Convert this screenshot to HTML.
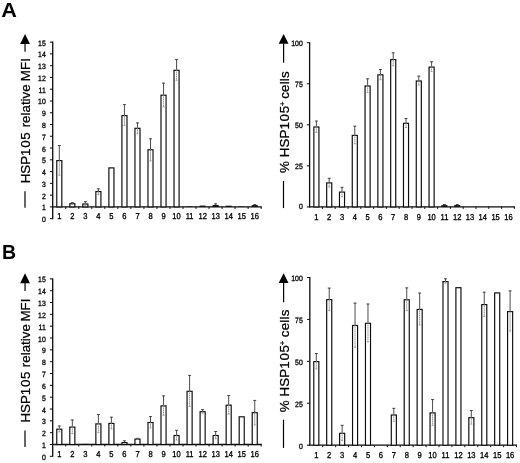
<!DOCTYPE html>
<html lang="en">
<head>
<meta charset="utf-8">
<title>HSP105 expression</title>
<style>
html,body{margin:0;padding:0;background:#fff;}
body{width:520px;height:463px;overflow:hidden;font-family:"Liberation Sans",Arial,sans-serif;}
svg{display:block;}
.t{font-family:"Liberation Sans",Arial,sans-serif;fill:#000;stroke:#000;stroke-width:0.32px;text-rendering:geometricPrecision;}
.ty{font-size:7.7px;}
.tx{font-size:8.6px;}
.l{font-family:"Liberation Sans",Arial,sans-serif;font-size:13.33px;fill:#000;stroke:#000;stroke-width:0.25px;}
.p{font-family:"Liberation Sans",Arial,sans-serif;font-size:19.7px;font-weight:bold;fill:#000;}
</style>
</head>
<body>
<svg width="520" height="463" viewBox="0 0 520 463">
<defs><filter id="soft" x="0" y="0" width="520" height="463" filterUnits="userSpaceOnUse"><feGaussianBlur stdDeviation="0.38"/></filter></defs>
<rect x="0" y="0" width="520" height="463" fill="#fff"/>
<g filter="url(#soft)">
<line x1="52.7" y1="41.62" x2="52.7" y2="219.17" stroke="#0a0a0a" stroke-width="1.3"/>
<line x1="49.9" y1="218.67" x2="52.7" y2="218.67" stroke="#0a0a0a" stroke-width="1"/>
<text transform="translate(45.8 222.17) scale(0.9 1)" text-anchor="end" class="t ty">0</text>
<line x1="49.9" y1="206.9" x2="52.7" y2="206.9" stroke="#0a0a0a" stroke-width="1"/>
<text transform="translate(45.8 210.4) scale(0.9 1)" text-anchor="end" class="t ty">1</text>
<line x1="49.9" y1="195.13" x2="52.7" y2="195.13" stroke="#0a0a0a" stroke-width="1"/>
<text transform="translate(45.8 198.63) scale(0.9 1)" text-anchor="end" class="t ty">2</text>
<line x1="49.9" y1="183.36" x2="52.7" y2="183.36" stroke="#0a0a0a" stroke-width="1"/>
<text transform="translate(45.8 186.86) scale(0.9 1)" text-anchor="end" class="t ty">3</text>
<line x1="49.9" y1="171.59" x2="52.7" y2="171.59" stroke="#0a0a0a" stroke-width="1"/>
<text transform="translate(45.8 175.09) scale(0.9 1)" text-anchor="end" class="t ty">4</text>
<line x1="49.9" y1="159.82" x2="52.7" y2="159.82" stroke="#0a0a0a" stroke-width="1"/>
<text transform="translate(45.8 163.32) scale(0.9 1)" text-anchor="end" class="t ty">5</text>
<line x1="49.9" y1="148.05" x2="52.7" y2="148.05" stroke="#0a0a0a" stroke-width="1"/>
<text transform="translate(45.8 151.55) scale(0.9 1)" text-anchor="end" class="t ty">6</text>
<line x1="49.9" y1="136.28" x2="52.7" y2="136.28" stroke="#0a0a0a" stroke-width="1"/>
<text transform="translate(45.8 139.78) scale(0.9 1)" text-anchor="end" class="t ty">7</text>
<line x1="49.9" y1="124.51" x2="52.7" y2="124.51" stroke="#0a0a0a" stroke-width="1"/>
<text transform="translate(45.8 128.01) scale(0.9 1)" text-anchor="end" class="t ty">8</text>
<line x1="49.9" y1="112.74" x2="52.7" y2="112.74" stroke="#0a0a0a" stroke-width="1"/>
<text transform="translate(45.8 116.24) scale(0.9 1)" text-anchor="end" class="t ty">9</text>
<line x1="49.9" y1="100.97" x2="52.7" y2="100.97" stroke="#0a0a0a" stroke-width="1"/>
<text transform="translate(45.8 104.47) scale(0.9 1)" text-anchor="end" class="t ty">10</text>
<line x1="49.9" y1="89.2" x2="52.7" y2="89.2" stroke="#0a0a0a" stroke-width="1"/>
<text transform="translate(45.8 92.7) scale(0.9 1)" text-anchor="end" class="t ty">11</text>
<line x1="49.9" y1="77.43" x2="52.7" y2="77.43" stroke="#0a0a0a" stroke-width="1"/>
<text transform="translate(45.8 80.93) scale(0.9 1)" text-anchor="end" class="t ty">12</text>
<line x1="49.9" y1="65.66" x2="52.7" y2="65.66" stroke="#0a0a0a" stroke-width="1"/>
<text transform="translate(45.8 69.16) scale(0.9 1)" text-anchor="end" class="t ty">13</text>
<line x1="49.9" y1="53.89" x2="52.7" y2="53.89" stroke="#0a0a0a" stroke-width="1"/>
<text transform="translate(45.8 57.39) scale(0.9 1)" text-anchor="end" class="t ty">14</text>
<line x1="49.9" y1="42.12" x2="52.7" y2="42.12" stroke="#0a0a0a" stroke-width="1"/>
<text transform="translate(45.8 45.62) scale(0.9 1)" text-anchor="end" class="t ty">15</text>
<line x1="52.1" y1="206.9" x2="261.68" y2="206.9" stroke="#0a0a0a" stroke-width="1.3"/>
<line x1="65.73" y1="206.9" x2="65.73" y2="208.9" stroke="#0a0a0a" stroke-width="1"/>
<line x1="78.76" y1="206.9" x2="78.76" y2="208.9" stroke="#0a0a0a" stroke-width="1"/>
<line x1="91.79" y1="206.9" x2="91.79" y2="208.9" stroke="#0a0a0a" stroke-width="1"/>
<line x1="104.82" y1="206.9" x2="104.82" y2="208.9" stroke="#0a0a0a" stroke-width="1"/>
<line x1="117.85" y1="206.9" x2="117.85" y2="208.9" stroke="#0a0a0a" stroke-width="1"/>
<line x1="130.88" y1="206.9" x2="130.88" y2="208.9" stroke="#0a0a0a" stroke-width="1"/>
<line x1="143.91" y1="206.9" x2="143.91" y2="208.9" stroke="#0a0a0a" stroke-width="1"/>
<line x1="156.94" y1="206.9" x2="156.94" y2="208.9" stroke="#0a0a0a" stroke-width="1"/>
<line x1="169.97" y1="206.9" x2="169.97" y2="208.9" stroke="#0a0a0a" stroke-width="1"/>
<line x1="183" y1="206.9" x2="183" y2="208.9" stroke="#0a0a0a" stroke-width="1"/>
<line x1="196.03" y1="206.9" x2="196.03" y2="208.9" stroke="#0a0a0a" stroke-width="1"/>
<line x1="209.06" y1="206.9" x2="209.06" y2="208.9" stroke="#0a0a0a" stroke-width="1"/>
<line x1="222.09" y1="206.9" x2="222.09" y2="208.9" stroke="#0a0a0a" stroke-width="1"/>
<line x1="235.12" y1="206.9" x2="235.12" y2="208.9" stroke="#0a0a0a" stroke-width="1"/>
<line x1="248.15" y1="206.9" x2="248.15" y2="208.9" stroke="#0a0a0a" stroke-width="1"/>
<line x1="261.18" y1="206.9" x2="261.18" y2="208.9" stroke="#0a0a0a" stroke-width="1"/>
<text transform="translate(59.3 219.1) scale(0.88 1)" text-anchor="middle" class="t tx">1</text>
<rect x="56.77" y="160.6" width="5.05" height="46.3" fill="#fff" stroke="#0a0a0a" stroke-width="1.15"/>
<line x1="59.3" y1="145.2" x2="59.3" y2="160.1" stroke="#383838" stroke-width="0.9"/>
<line x1="57.8" y1="145.5" x2="60.8" y2="145.5" stroke="#383838" stroke-width="0.9"/>
<line x1="59.3" y1="160.1" x2="59.3" y2="175.2" stroke="#858585" stroke-width="0.8" stroke-dasharray="1.6 0.4"/>
<line x1="58.3" y1="175.2" x2="60.3" y2="175.2" stroke="#888" stroke-width="0.8"/>
<text transform="translate(72.33 219.1) scale(0.88 1)" text-anchor="middle" class="t tx">2</text>
<rect x="69.8" y="203.7" width="5.05" height="3.2" fill="#fff" stroke="#0a0a0a" stroke-width="1.15"/>
<line x1="72.33" y1="202.3" x2="72.33" y2="203.2" stroke="#383838" stroke-width="0.9"/>
<line x1="70.83" y1="202.6" x2="73.83" y2="202.6" stroke="#383838" stroke-width="0.9"/>
<line x1="72.33" y1="203.2" x2="72.33" y2="204.2" stroke="#858585" stroke-width="0.8" stroke-dasharray="1.6 0.4"/>
<line x1="71.33" y1="204.2" x2="73.33" y2="204.2" stroke="#888" stroke-width="0.8"/>
<text transform="translate(85.36 219.1) scale(0.88 1)" text-anchor="middle" class="t tx">3</text>
<rect x="82.83" y="204" width="5.05" height="2.9" fill="#fff" stroke="#0a0a0a" stroke-width="1.15"/>
<line x1="85.36" y1="201.4" x2="85.36" y2="203.5" stroke="#383838" stroke-width="0.9"/>
<line x1="83.86" y1="201.7" x2="86.86" y2="201.7" stroke="#383838" stroke-width="0.9"/>
<line x1="85.36" y1="203.5" x2="85.36" y2="205.5" stroke="#858585" stroke-width="0.8" stroke-dasharray="1.6 0.4"/>
<line x1="84.36" y1="205.5" x2="86.36" y2="205.5" stroke="#888" stroke-width="0.8"/>
<text transform="translate(98.39 219.1) scale(0.88 1)" text-anchor="middle" class="t tx">4</text>
<rect x="95.86" y="191.6" width="5.05" height="15.3" fill="#fff" stroke="#0a0a0a" stroke-width="1.15"/>
<line x1="98.39" y1="188.5" x2="98.39" y2="191.1" stroke="#383838" stroke-width="0.9"/>
<line x1="96.89" y1="188.8" x2="99.89" y2="188.8" stroke="#383838" stroke-width="0.9"/>
<line x1="98.39" y1="191.1" x2="98.39" y2="194.7" stroke="#858585" stroke-width="0.8" stroke-dasharray="1.6 0.4"/>
<line x1="97.39" y1="194.7" x2="99.39" y2="194.7" stroke="#888" stroke-width="0.8"/>
<text transform="translate(111.42 219.1) scale(0.88 1)" text-anchor="middle" class="t tx">5</text>
<rect x="108.89" y="167.9" width="5.05" height="39" fill="#fff" stroke="#0a0a0a" stroke-width="1.15"/>
<text transform="translate(124.45 219.1) scale(0.88 1)" text-anchor="middle" class="t tx">6</text>
<rect x="121.92" y="115.6" width="5.05" height="91.3" fill="#fff" stroke="#0a0a0a" stroke-width="1.15"/>
<line x1="124.45" y1="104.3" x2="124.45" y2="115.1" stroke="#383838" stroke-width="0.9"/>
<line x1="122.95" y1="104.6" x2="125.95" y2="104.6" stroke="#383838" stroke-width="0.9"/>
<line x1="124.45" y1="115.1" x2="124.45" y2="125.5" stroke="#858585" stroke-width="0.8" stroke-dasharray="1.6 0.4"/>
<line x1="123.45" y1="125.5" x2="125.45" y2="125.5" stroke="#888" stroke-width="0.8"/>
<text transform="translate(137.48 219.1) scale(0.88 1)" text-anchor="middle" class="t tx">7</text>
<rect x="134.95" y="128.3" width="5.05" height="78.6" fill="#fff" stroke="#0a0a0a" stroke-width="1.15"/>
<line x1="137.48" y1="122.6" x2="137.48" y2="127.8" stroke="#383838" stroke-width="0.9"/>
<line x1="135.98" y1="122.9" x2="138.98" y2="122.9" stroke="#383838" stroke-width="0.9"/>
<line x1="137.48" y1="127.8" x2="137.48" y2="133.7" stroke="#858585" stroke-width="0.8" stroke-dasharray="1.6 0.4"/>
<line x1="136.48" y1="133.7" x2="138.48" y2="133.7" stroke="#888" stroke-width="0.8"/>
<text transform="translate(150.51 219.1) scale(0.88 1)" text-anchor="middle" class="t tx">8</text>
<rect x="147.98" y="149.8" width="5.05" height="57.1" fill="#fff" stroke="#0a0a0a" stroke-width="1.15"/>
<line x1="150.51" y1="138.5" x2="150.51" y2="149.3" stroke="#383838" stroke-width="0.9"/>
<line x1="149.01" y1="138.8" x2="152.01" y2="138.8" stroke="#383838" stroke-width="0.9"/>
<line x1="150.51" y1="149.3" x2="150.51" y2="160.9" stroke="#858585" stroke-width="0.8" stroke-dasharray="1.6 0.4"/>
<line x1="149.51" y1="160.9" x2="151.51" y2="160.9" stroke="#888" stroke-width="0.8"/>
<text transform="translate(163.54 219.1) scale(0.88 1)" text-anchor="middle" class="t tx">9</text>
<rect x="161.01" y="95.2" width="5.05" height="111.7" fill="#fff" stroke="#0a0a0a" stroke-width="1.15"/>
<line x1="163.54" y1="82.8" x2="163.54" y2="94.7" stroke="#383838" stroke-width="0.9"/>
<line x1="162.04" y1="83.1" x2="165.04" y2="83.1" stroke="#383838" stroke-width="0.9"/>
<line x1="163.54" y1="94.7" x2="163.54" y2="106.9" stroke="#858585" stroke-width="0.8" stroke-dasharray="1.6 0.4"/>
<line x1="162.54" y1="106.9" x2="164.54" y2="106.9" stroke="#888" stroke-width="0.8"/>
<text transform="translate(176.57 219.1) scale(0.88 1)" text-anchor="middle" class="t tx">10</text>
<rect x="174.04" y="70.3" width="5.05" height="136.6" fill="#fff" stroke="#0a0a0a" stroke-width="1.15"/>
<line x1="176.57" y1="59.3" x2="176.57" y2="69.8" stroke="#383838" stroke-width="0.9"/>
<line x1="175.07" y1="59.6" x2="178.07" y2="59.6" stroke="#383838" stroke-width="0.9"/>
<line x1="176.57" y1="69.8" x2="176.57" y2="80.2" stroke="#858585" stroke-width="0.8" stroke-dasharray="1.6 0.4"/>
<line x1="175.57" y1="80.2" x2="177.57" y2="80.2" stroke="#888" stroke-width="0.8"/>
<text transform="translate(189.6 219.1) scale(0.88 1)" text-anchor="middle" class="t tx">11</text>
<rect x="186.57" y="206.4" width="6.05" height="0.5" fill="#0a0a0a"/>
<text transform="translate(202.63 219.1) scale(0.88 1)" text-anchor="middle" class="t tx">12</text>
<rect x="199.6" y="205.6" width="6.05" height="1.3" fill="#0a0a0a"/>
<text transform="translate(215.66 219.1) scale(0.88 1)" text-anchor="middle" class="t tx">13</text>
<rect x="212.63" y="205" width="6.05" height="1.9" fill="#0a0a0a"/>
<line x1="215.66" y1="203.5" x2="215.66" y2="205" stroke="#383838" stroke-width="0.9"/>
<line x1="214.16" y1="203.8" x2="217.16" y2="203.8" stroke="#383838" stroke-width="0.9"/>
<text transform="translate(228.69 219.1) scale(0.88 1)" text-anchor="middle" class="t tx">14</text>
<rect x="225.66" y="205.7" width="6.05" height="1.2" fill="#0a0a0a"/>
<text transform="translate(241.72 219.1) scale(0.88 1)" text-anchor="middle" class="t tx">15</text>
<rect x="238.69" y="206.6" width="6.05" height="0.3" fill="#0a0a0a"/>
<text transform="translate(254.75 219.1) scale(0.88 1)" text-anchor="middle" class="t tx">16</text>
<rect x="251.72" y="205.1" width="6.05" height="1.8" fill="#0a0a0a"/>
<line x1="254.75" y1="204.3" x2="254.75" y2="205.1" stroke="#383838" stroke-width="0.9"/>
<line x1="253.25" y1="204.6" x2="256.25" y2="204.6" stroke="#383838" stroke-width="0.9"/>
<line x1="309.6" y1="42.2" x2="309.6" y2="207.4" stroke="#0a0a0a" stroke-width="1.3"/>
<line x1="306.8" y1="206.9" x2="309.6" y2="206.9" stroke="#0a0a0a" stroke-width="1"/>
<text transform="translate(302.8 209.4) scale(0.9 1)" text-anchor="end" class="t ty">0</text>
<line x1="306.8" y1="165.85" x2="309.6" y2="165.85" stroke="#0a0a0a" stroke-width="1"/>
<text transform="translate(302.8 169.35) scale(0.9 1)" text-anchor="end" class="t ty">25</text>
<line x1="306.8" y1="124.8" x2="309.6" y2="124.8" stroke="#0a0a0a" stroke-width="1"/>
<text transform="translate(302.8 128.3) scale(0.9 1)" text-anchor="end" class="t ty">50</text>
<line x1="306.8" y1="83.75" x2="309.6" y2="83.75" stroke="#0a0a0a" stroke-width="1"/>
<text transform="translate(302.8 87.25) scale(0.9 1)" text-anchor="end" class="t ty">75</text>
<line x1="306.8" y1="42.7" x2="309.6" y2="42.7" stroke="#0a0a0a" stroke-width="1"/>
<text transform="translate(302.8 46.2) scale(0.9 1)" text-anchor="end" class="t ty">100</text>
<line x1="309" y1="206.9" x2="514.9" y2="206.9" stroke="#0a0a0a" stroke-width="1.3"/>
<line x1="322.4" y1="206.9" x2="322.4" y2="208.9" stroke="#0a0a0a" stroke-width="1"/>
<line x1="335.2" y1="206.9" x2="335.2" y2="208.9" stroke="#0a0a0a" stroke-width="1"/>
<line x1="348" y1="206.9" x2="348" y2="208.9" stroke="#0a0a0a" stroke-width="1"/>
<line x1="360.8" y1="206.9" x2="360.8" y2="208.9" stroke="#0a0a0a" stroke-width="1"/>
<line x1="373.6" y1="206.9" x2="373.6" y2="208.9" stroke="#0a0a0a" stroke-width="1"/>
<line x1="386.4" y1="206.9" x2="386.4" y2="208.9" stroke="#0a0a0a" stroke-width="1"/>
<line x1="399.2" y1="206.9" x2="399.2" y2="208.9" stroke="#0a0a0a" stroke-width="1"/>
<line x1="412" y1="206.9" x2="412" y2="208.9" stroke="#0a0a0a" stroke-width="1"/>
<line x1="424.8" y1="206.9" x2="424.8" y2="208.9" stroke="#0a0a0a" stroke-width="1"/>
<line x1="437.6" y1="206.9" x2="437.6" y2="208.9" stroke="#0a0a0a" stroke-width="1"/>
<line x1="450.4" y1="206.9" x2="450.4" y2="208.9" stroke="#0a0a0a" stroke-width="1"/>
<line x1="463.2" y1="206.9" x2="463.2" y2="208.9" stroke="#0a0a0a" stroke-width="1"/>
<line x1="476" y1="206.9" x2="476" y2="208.9" stroke="#0a0a0a" stroke-width="1"/>
<line x1="488.8" y1="206.9" x2="488.8" y2="208.9" stroke="#0a0a0a" stroke-width="1"/>
<line x1="501.6" y1="206.9" x2="501.6" y2="208.9" stroke="#0a0a0a" stroke-width="1"/>
<line x1="514.4" y1="206.9" x2="514.4" y2="208.9" stroke="#0a0a0a" stroke-width="1"/>
<text transform="translate(316.4 220) scale(0.88 1)" text-anchor="middle" class="t tx">1</text>
<rect x="313.88" y="127" width="5.05" height="79.9" fill="#fff" stroke="#0a0a0a" stroke-width="1.15"/>
<line x1="316.4" y1="120.8" x2="316.4" y2="126.5" stroke="#383838" stroke-width="0.9"/>
<line x1="314.9" y1="121.1" x2="317.9" y2="121.1" stroke="#383838" stroke-width="0.9"/>
<line x1="316.4" y1="126.5" x2="316.4" y2="132.4" stroke="#858585" stroke-width="0.8" stroke-dasharray="1.6 0.4"/>
<line x1="315.4" y1="132.4" x2="317.4" y2="132.4" stroke="#888" stroke-width="0.8"/>
<text transform="translate(329.2 220) scale(0.88 1)" text-anchor="middle" class="t tx">2</text>
<rect x="326.68" y="182.9" width="5.05" height="24" fill="#fff" stroke="#0a0a0a" stroke-width="1.15"/>
<line x1="329.2" y1="178" x2="329.2" y2="182.4" stroke="#383838" stroke-width="0.9"/>
<line x1="327.7" y1="178.3" x2="330.7" y2="178.3" stroke="#383838" stroke-width="0.9"/>
<line x1="329.2" y1="182.4" x2="329.2" y2="187" stroke="#858585" stroke-width="0.8" stroke-dasharray="1.6 0.4"/>
<line x1="328.2" y1="187" x2="330.2" y2="187" stroke="#888" stroke-width="0.8"/>
<text transform="translate(342 220) scale(0.88 1)" text-anchor="middle" class="t tx">3</text>
<rect x="339.48" y="192.1" width="5.05" height="14.8" fill="#fff" stroke="#0a0a0a" stroke-width="1.15"/>
<line x1="342" y1="187" x2="342" y2="191.6" stroke="#383838" stroke-width="0.9"/>
<line x1="340.5" y1="187.3" x2="343.5" y2="187.3" stroke="#383838" stroke-width="0.9"/>
<line x1="342" y1="191.6" x2="342" y2="196.7" stroke="#858585" stroke-width="0.8" stroke-dasharray="1.6 0.4"/>
<line x1="341" y1="196.7" x2="343" y2="196.7" stroke="#888" stroke-width="0.8"/>
<text transform="translate(354.8 220) scale(0.88 1)" text-anchor="middle" class="t tx">4</text>
<rect x="352.27" y="135.4" width="5.05" height="71.5" fill="#fff" stroke="#0a0a0a" stroke-width="1.15"/>
<line x1="354.8" y1="125.9" x2="354.8" y2="134.9" stroke="#383838" stroke-width="0.9"/>
<line x1="353.3" y1="126.2" x2="356.3" y2="126.2" stroke="#383838" stroke-width="0.9"/>
<line x1="354.8" y1="134.9" x2="354.8" y2="143.8" stroke="#858585" stroke-width="0.8" stroke-dasharray="1.6 0.4"/>
<line x1="353.8" y1="143.8" x2="355.8" y2="143.8" stroke="#888" stroke-width="0.8"/>
<text transform="translate(367.6 220) scale(0.88 1)" text-anchor="middle" class="t tx">5</text>
<rect x="365.07" y="86" width="5.05" height="120.9" fill="#fff" stroke="#0a0a0a" stroke-width="1.15"/>
<line x1="367.6" y1="78.5" x2="367.6" y2="85.5" stroke="#383838" stroke-width="0.9"/>
<line x1="366.1" y1="78.8" x2="369.1" y2="78.8" stroke="#383838" stroke-width="0.9"/>
<line x1="367.6" y1="85.5" x2="367.6" y2="92.5" stroke="#858585" stroke-width="0.8" stroke-dasharray="1.6 0.4"/>
<line x1="366.6" y1="92.5" x2="368.6" y2="92.5" stroke="#888" stroke-width="0.8"/>
<text transform="translate(380.4 220) scale(0.88 1)" text-anchor="middle" class="t tx">6</text>
<rect x="377.88" y="74.8" width="5.05" height="132.1" fill="#fff" stroke="#0a0a0a" stroke-width="1.15"/>
<line x1="380.4" y1="69.2" x2="380.4" y2="74.3" stroke="#383838" stroke-width="0.9"/>
<line x1="378.9" y1="69.5" x2="381.9" y2="69.5" stroke="#383838" stroke-width="0.9"/>
<line x1="380.4" y1="74.3" x2="380.4" y2="79.7" stroke="#858585" stroke-width="0.8" stroke-dasharray="1.6 0.4"/>
<line x1="379.4" y1="79.7" x2="381.4" y2="79.7" stroke="#888" stroke-width="0.8"/>
<text transform="translate(393.2 220) scale(0.88 1)" text-anchor="middle" class="t tx">7</text>
<rect x="390.68" y="59.6" width="5.05" height="147.3" fill="#fff" stroke="#0a0a0a" stroke-width="1.15"/>
<line x1="393.2" y1="52.5" x2="393.2" y2="59.1" stroke="#383838" stroke-width="0.9"/>
<line x1="391.7" y1="52.8" x2="394.7" y2="52.8" stroke="#383838" stroke-width="0.9"/>
<line x1="393.2" y1="59.1" x2="393.2" y2="65.7" stroke="#858585" stroke-width="0.8" stroke-dasharray="1.6 0.4"/>
<line x1="392.2" y1="65.7" x2="394.2" y2="65.7" stroke="#888" stroke-width="0.8"/>
<text transform="translate(406 220) scale(0.88 1)" text-anchor="middle" class="t tx">8</text>
<rect x="403.48" y="123.3" width="5.05" height="83.6" fill="#fff" stroke="#0a0a0a" stroke-width="1.15"/>
<line x1="406" y1="118.2" x2="406" y2="122.8" stroke="#383838" stroke-width="0.9"/>
<line x1="404.5" y1="118.5" x2="407.5" y2="118.5" stroke="#383838" stroke-width="0.9"/>
<line x1="406" y1="122.8" x2="406" y2="127.5" stroke="#858585" stroke-width="0.8" stroke-dasharray="1.6 0.4"/>
<line x1="405" y1="127.5" x2="407" y2="127.5" stroke="#888" stroke-width="0.8"/>
<text transform="translate(418.8 220) scale(0.88 1)" text-anchor="middle" class="t tx">9</text>
<rect x="416.27" y="81" width="5.05" height="125.9" fill="#fff" stroke="#0a0a0a" stroke-width="1.15"/>
<line x1="418.8" y1="75.8" x2="418.8" y2="80.5" stroke="#383838" stroke-width="0.9"/>
<line x1="417.3" y1="76.1" x2="420.3" y2="76.1" stroke="#383838" stroke-width="0.9"/>
<line x1="418.8" y1="80.5" x2="418.8" y2="85.1" stroke="#858585" stroke-width="0.8" stroke-dasharray="1.6 0.4"/>
<line x1="417.8" y1="85.1" x2="419.8" y2="85.1" stroke="#888" stroke-width="0.8"/>
<text transform="translate(431.6 220) scale(0.88 1)" text-anchor="middle" class="t tx">10</text>
<rect x="429.07" y="67.1" width="5.05" height="139.8" fill="#fff" stroke="#0a0a0a" stroke-width="1.15"/>
<line x1="431.6" y1="61.5" x2="431.6" y2="66.6" stroke="#383838" stroke-width="0.9"/>
<line x1="430.1" y1="61.8" x2="433.1" y2="61.8" stroke="#383838" stroke-width="0.9"/>
<line x1="431.6" y1="66.6" x2="431.6" y2="71.6" stroke="#858585" stroke-width="0.8" stroke-dasharray="1.6 0.4"/>
<line x1="430.6" y1="71.6" x2="432.6" y2="71.6" stroke="#888" stroke-width="0.8"/>
<text transform="translate(444.4 220) scale(0.88 1)" text-anchor="middle" class="t tx">11</text>
<rect x="441.38" y="205.1" width="6.05" height="1.8" fill="#0a0a0a"/>
<line x1="444.4" y1="204.2" x2="444.4" y2="205.1" stroke="#383838" stroke-width="0.9"/>
<line x1="442.9" y1="204.5" x2="445.9" y2="204.5" stroke="#383838" stroke-width="0.9"/>
<text transform="translate(457.2 220) scale(0.88 1)" text-anchor="middle" class="t tx">12</text>
<rect x="454.18" y="205.1" width="6.05" height="1.8" fill="#0a0a0a"/>
<line x1="457.2" y1="204.2" x2="457.2" y2="205.1" stroke="#383838" stroke-width="0.9"/>
<line x1="455.7" y1="204.5" x2="458.7" y2="204.5" stroke="#383838" stroke-width="0.9"/>
<text transform="translate(470 220) scale(0.88 1)" text-anchor="middle" class="t tx">13</text>
<text transform="translate(482.8 220) scale(0.88 1)" text-anchor="middle" class="t tx">14</text>
<text transform="translate(495.6 220) scale(0.88 1)" text-anchor="middle" class="t tx">15</text>
<text transform="translate(508.4 220) scale(0.88 1)" text-anchor="middle" class="t tx">16</text>
<line x1="52.7" y1="278.38" x2="52.7" y2="456.83" stroke="#0a0a0a" stroke-width="1.3"/>
<line x1="49.9" y1="456.33" x2="52.7" y2="456.33" stroke="#0a0a0a" stroke-width="1"/>
<text transform="translate(45.8 459.83) scale(0.9 1)" text-anchor="end" class="t ty">0</text>
<line x1="49.9" y1="444.5" x2="52.7" y2="444.5" stroke="#0a0a0a" stroke-width="1"/>
<text transform="translate(45.8 448) scale(0.9 1)" text-anchor="end" class="t ty">1</text>
<line x1="49.9" y1="432.67" x2="52.7" y2="432.67" stroke="#0a0a0a" stroke-width="1"/>
<text transform="translate(45.8 436.17) scale(0.9 1)" text-anchor="end" class="t ty">2</text>
<line x1="49.9" y1="420.84" x2="52.7" y2="420.84" stroke="#0a0a0a" stroke-width="1"/>
<text transform="translate(45.8 424.34) scale(0.9 1)" text-anchor="end" class="t ty">3</text>
<line x1="49.9" y1="409.01" x2="52.7" y2="409.01" stroke="#0a0a0a" stroke-width="1"/>
<text transform="translate(45.8 412.51) scale(0.9 1)" text-anchor="end" class="t ty">4</text>
<line x1="49.9" y1="397.18" x2="52.7" y2="397.18" stroke="#0a0a0a" stroke-width="1"/>
<text transform="translate(45.8 400.68) scale(0.9 1)" text-anchor="end" class="t ty">5</text>
<line x1="49.9" y1="385.35" x2="52.7" y2="385.35" stroke="#0a0a0a" stroke-width="1"/>
<text transform="translate(45.8 388.85) scale(0.9 1)" text-anchor="end" class="t ty">6</text>
<line x1="49.9" y1="373.52" x2="52.7" y2="373.52" stroke="#0a0a0a" stroke-width="1"/>
<text transform="translate(45.8 377.02) scale(0.9 1)" text-anchor="end" class="t ty">7</text>
<line x1="49.9" y1="361.69" x2="52.7" y2="361.69" stroke="#0a0a0a" stroke-width="1"/>
<text transform="translate(45.8 365.19) scale(0.9 1)" text-anchor="end" class="t ty">8</text>
<line x1="49.9" y1="349.86" x2="52.7" y2="349.86" stroke="#0a0a0a" stroke-width="1"/>
<text transform="translate(45.8 353.36) scale(0.9 1)" text-anchor="end" class="t ty">9</text>
<line x1="49.9" y1="338.03" x2="52.7" y2="338.03" stroke="#0a0a0a" stroke-width="1"/>
<text transform="translate(45.8 341.53) scale(0.9 1)" text-anchor="end" class="t ty">10</text>
<line x1="49.9" y1="326.2" x2="52.7" y2="326.2" stroke="#0a0a0a" stroke-width="1"/>
<text transform="translate(45.8 329.7) scale(0.9 1)" text-anchor="end" class="t ty">11</text>
<line x1="49.9" y1="314.37" x2="52.7" y2="314.37" stroke="#0a0a0a" stroke-width="1"/>
<text transform="translate(45.8 317.87) scale(0.9 1)" text-anchor="end" class="t ty">12</text>
<line x1="49.9" y1="302.54" x2="52.7" y2="302.54" stroke="#0a0a0a" stroke-width="1"/>
<text transform="translate(45.8 306.04) scale(0.9 1)" text-anchor="end" class="t ty">13</text>
<line x1="49.9" y1="290.71" x2="52.7" y2="290.71" stroke="#0a0a0a" stroke-width="1"/>
<text transform="translate(45.8 294.21) scale(0.9 1)" text-anchor="end" class="t ty">14</text>
<line x1="49.9" y1="278.88" x2="52.7" y2="278.88" stroke="#0a0a0a" stroke-width="1"/>
<text transform="translate(45.8 282.38) scale(0.9 1)" text-anchor="end" class="t ty">15</text>
<line x1="52.1" y1="444.5" x2="261.68" y2="444.5" stroke="#0a0a0a" stroke-width="1.3"/>
<line x1="65.73" y1="444.5" x2="65.73" y2="446.5" stroke="#0a0a0a" stroke-width="1"/>
<line x1="78.76" y1="444.5" x2="78.76" y2="446.5" stroke="#0a0a0a" stroke-width="1"/>
<line x1="91.79" y1="444.5" x2="91.79" y2="446.5" stroke="#0a0a0a" stroke-width="1"/>
<line x1="104.82" y1="444.5" x2="104.82" y2="446.5" stroke="#0a0a0a" stroke-width="1"/>
<line x1="117.85" y1="444.5" x2="117.85" y2="446.5" stroke="#0a0a0a" stroke-width="1"/>
<line x1="130.88" y1="444.5" x2="130.88" y2="446.5" stroke="#0a0a0a" stroke-width="1"/>
<line x1="143.91" y1="444.5" x2="143.91" y2="446.5" stroke="#0a0a0a" stroke-width="1"/>
<line x1="156.94" y1="444.5" x2="156.94" y2="446.5" stroke="#0a0a0a" stroke-width="1"/>
<line x1="169.97" y1="444.5" x2="169.97" y2="446.5" stroke="#0a0a0a" stroke-width="1"/>
<line x1="183" y1="444.5" x2="183" y2="446.5" stroke="#0a0a0a" stroke-width="1"/>
<line x1="196.03" y1="444.5" x2="196.03" y2="446.5" stroke="#0a0a0a" stroke-width="1"/>
<line x1="209.06" y1="444.5" x2="209.06" y2="446.5" stroke="#0a0a0a" stroke-width="1"/>
<line x1="222.09" y1="444.5" x2="222.09" y2="446.5" stroke="#0a0a0a" stroke-width="1"/>
<line x1="235.12" y1="444.5" x2="235.12" y2="446.5" stroke="#0a0a0a" stroke-width="1"/>
<line x1="248.15" y1="444.5" x2="248.15" y2="446.5" stroke="#0a0a0a" stroke-width="1"/>
<line x1="261.18" y1="444.5" x2="261.18" y2="446.5" stroke="#0a0a0a" stroke-width="1"/>
<text transform="translate(59.3 456.7) scale(0.88 1)" text-anchor="middle" class="t tx">1</text>
<rect x="56.77" y="429.2" width="5.05" height="15.3" fill="#fff" stroke="#0a0a0a" stroke-width="1.15"/>
<line x1="59.3" y1="425.7" x2="59.3" y2="428.7" stroke="#383838" stroke-width="0.9"/>
<line x1="57.8" y1="426" x2="60.8" y2="426" stroke="#383838" stroke-width="0.9"/>
<line x1="59.3" y1="428.7" x2="59.3" y2="431.9" stroke="#858585" stroke-width="0.8" stroke-dasharray="1.6 0.4"/>
<line x1="58.3" y1="431.9" x2="60.3" y2="431.9" stroke="#888" stroke-width="0.8"/>
<text transform="translate(72.33 456.7) scale(0.88 1)" text-anchor="middle" class="t tx">2</text>
<rect x="69.8" y="427.1" width="5.05" height="17.4" fill="#fff" stroke="#0a0a0a" stroke-width="1.15"/>
<line x1="72.33" y1="419.7" x2="72.33" y2="426.6" stroke="#383838" stroke-width="0.9"/>
<line x1="70.83" y1="420" x2="73.83" y2="420" stroke="#383838" stroke-width="0.9"/>
<line x1="72.33" y1="426.6" x2="72.33" y2="433.5" stroke="#858585" stroke-width="0.8" stroke-dasharray="1.6 0.4"/>
<line x1="71.33" y1="433.5" x2="73.33" y2="433.5" stroke="#888" stroke-width="0.8"/>
<text transform="translate(85.36 456.7) scale(0.88 1)" text-anchor="middle" class="t tx">3</text>
<rect x="82.33" y="443.9" width="6.05" height="0.6" fill="#0a0a0a"/>
<text transform="translate(98.39 456.7) scale(0.88 1)" text-anchor="middle" class="t tx">4</text>
<rect x="95.86" y="423.9" width="5.05" height="20.6" fill="#fff" stroke="#0a0a0a" stroke-width="1.15"/>
<line x1="98.39" y1="414.2" x2="98.39" y2="423.4" stroke="#383838" stroke-width="0.9"/>
<line x1="96.89" y1="414.5" x2="99.89" y2="414.5" stroke="#383838" stroke-width="0.9"/>
<line x1="98.39" y1="423.4" x2="98.39" y2="432.6" stroke="#858585" stroke-width="0.8" stroke-dasharray="1.6 0.4"/>
<line x1="97.39" y1="432.6" x2="99.39" y2="432.6" stroke="#888" stroke-width="0.8"/>
<text transform="translate(111.42 456.7) scale(0.88 1)" text-anchor="middle" class="t tx">5</text>
<rect x="108.89" y="423.4" width="5.05" height="21.1" fill="#fff" stroke="#0a0a0a" stroke-width="1.15"/>
<line x1="111.42" y1="416.9" x2="111.42" y2="422.9" stroke="#383838" stroke-width="0.9"/>
<line x1="109.92" y1="417.2" x2="112.92" y2="417.2" stroke="#383838" stroke-width="0.9"/>
<line x1="111.42" y1="422.9" x2="111.42" y2="428.9" stroke="#858585" stroke-width="0.8" stroke-dasharray="1.6 0.4"/>
<line x1="110.42" y1="428.9" x2="112.42" y2="428.9" stroke="#888" stroke-width="0.8"/>
<text transform="translate(124.45 456.7) scale(0.88 1)" text-anchor="middle" class="t tx">6</text>
<rect x="121.92" y="442.6" width="5.05" height="1.9" fill="#fff" stroke="#0a0a0a" stroke-width="1.15"/>
<line x1="124.45" y1="440.5" x2="124.45" y2="442.1" stroke="#383838" stroke-width="0.9"/>
<line x1="122.95" y1="440.8" x2="125.95" y2="440.8" stroke="#383838" stroke-width="0.9"/>
<text transform="translate(137.48 456.7) scale(0.88 1)" text-anchor="middle" class="t tx">7</text>
<rect x="134.95" y="439.1" width="5.05" height="5.4" fill="#fff" stroke="#0a0a0a" stroke-width="1.15"/>
<line x1="137.48" y1="438" x2="137.48" y2="438.6" stroke="#383838" stroke-width="0.9"/>
<line x1="135.98" y1="438.3" x2="138.98" y2="438.3" stroke="#383838" stroke-width="0.9"/>
<line x1="137.48" y1="438.6" x2="137.48" y2="439.2" stroke="#858585" stroke-width="0.8" stroke-dasharray="1.6 0.4"/>
<line x1="136.48" y1="439.2" x2="138.48" y2="439.2" stroke="#888" stroke-width="0.8"/>
<text transform="translate(150.51 456.7) scale(0.88 1)" text-anchor="middle" class="t tx">8</text>
<rect x="147.98" y="422.5" width="5.05" height="22" fill="#fff" stroke="#0a0a0a" stroke-width="1.15"/>
<line x1="150.51" y1="416.3" x2="150.51" y2="422" stroke="#383838" stroke-width="0.9"/>
<line x1="149.01" y1="416.6" x2="152.01" y2="416.6" stroke="#383838" stroke-width="0.9"/>
<line x1="150.51" y1="422" x2="150.51" y2="428" stroke="#858585" stroke-width="0.8" stroke-dasharray="1.6 0.4"/>
<line x1="149.51" y1="428" x2="151.51" y2="428" stroke="#888" stroke-width="0.8"/>
<text transform="translate(163.54 456.7) scale(0.88 1)" text-anchor="middle" class="t tx">9</text>
<rect x="161.01" y="405.9" width="5.05" height="38.6" fill="#fff" stroke="#0a0a0a" stroke-width="1.15"/>
<line x1="163.54" y1="395.6" x2="163.54" y2="405.4" stroke="#383838" stroke-width="0.9"/>
<line x1="162.04" y1="395.9" x2="165.04" y2="395.9" stroke="#383838" stroke-width="0.9"/>
<line x1="163.54" y1="405.4" x2="163.54" y2="415.3" stroke="#858585" stroke-width="0.8" stroke-dasharray="1.6 0.4"/>
<line x1="162.54" y1="415.3" x2="164.54" y2="415.3" stroke="#888" stroke-width="0.8"/>
<text transform="translate(176.57 456.7) scale(0.88 1)" text-anchor="middle" class="t tx">10</text>
<rect x="174.04" y="435.5" width="5.05" height="9" fill="#fff" stroke="#0a0a0a" stroke-width="1.15"/>
<line x1="176.57" y1="430" x2="176.57" y2="435" stroke="#383838" stroke-width="0.9"/>
<line x1="175.07" y1="430.3" x2="178.07" y2="430.3" stroke="#383838" stroke-width="0.9"/>
<line x1="176.57" y1="435" x2="176.57" y2="440" stroke="#858585" stroke-width="0.8" stroke-dasharray="1.6 0.4"/>
<line x1="175.57" y1="440" x2="177.57" y2="440" stroke="#888" stroke-width="0.8"/>
<text transform="translate(189.6 456.7) scale(0.88 1)" text-anchor="middle" class="t tx">11</text>
<rect x="187.07" y="391.3" width="5.05" height="53.2" fill="#fff" stroke="#0a0a0a" stroke-width="1.15"/>
<line x1="189.6" y1="375.1" x2="189.6" y2="390.8" stroke="#383838" stroke-width="0.9"/>
<line x1="188.1" y1="375.4" x2="191.1" y2="375.4" stroke="#383838" stroke-width="0.9"/>
<line x1="189.6" y1="390.8" x2="189.6" y2="406.4" stroke="#858585" stroke-width="0.8" stroke-dasharray="1.6 0.4"/>
<line x1="188.6" y1="406.4" x2="190.6" y2="406.4" stroke="#888" stroke-width="0.8"/>
<text transform="translate(202.63 456.7) scale(0.88 1)" text-anchor="middle" class="t tx">12</text>
<rect x="200.1" y="411.7" width="5.05" height="32.8" fill="#fff" stroke="#0a0a0a" stroke-width="1.15"/>
<line x1="202.63" y1="409.3" x2="202.63" y2="411.2" stroke="#383838" stroke-width="0.9"/>
<line x1="201.13" y1="409.6" x2="204.13" y2="409.6" stroke="#383838" stroke-width="0.9"/>
<line x1="202.63" y1="411.2" x2="202.63" y2="413.1" stroke="#858585" stroke-width="0.8" stroke-dasharray="1.6 0.4"/>
<line x1="201.63" y1="413.1" x2="203.63" y2="413.1" stroke="#888" stroke-width="0.8"/>
<text transform="translate(215.66 456.7) scale(0.88 1)" text-anchor="middle" class="t tx">13</text>
<rect x="213.13" y="435.5" width="5.05" height="9" fill="#fff" stroke="#0a0a0a" stroke-width="1.15"/>
<line x1="215.66" y1="431.2" x2="215.66" y2="435" stroke="#383838" stroke-width="0.9"/>
<line x1="214.16" y1="431.5" x2="217.16" y2="431.5" stroke="#383838" stroke-width="0.9"/>
<line x1="215.66" y1="435" x2="215.66" y2="438.8" stroke="#858585" stroke-width="0.8" stroke-dasharray="1.6 0.4"/>
<line x1="214.66" y1="438.8" x2="216.66" y2="438.8" stroke="#888" stroke-width="0.8"/>
<text transform="translate(228.69 456.7) scale(0.88 1)" text-anchor="middle" class="t tx">14</text>
<rect x="226.16" y="405.2" width="5.05" height="39.3" fill="#fff" stroke="#0a0a0a" stroke-width="1.15"/>
<line x1="228.69" y1="395.3" x2="228.69" y2="404.7" stroke="#383838" stroke-width="0.9"/>
<line x1="227.19" y1="395.6" x2="230.19" y2="395.6" stroke="#383838" stroke-width="0.9"/>
<line x1="228.69" y1="404.7" x2="228.69" y2="414.1" stroke="#858585" stroke-width="0.8" stroke-dasharray="1.6 0.4"/>
<line x1="227.69" y1="414.1" x2="229.69" y2="414.1" stroke="#888" stroke-width="0.8"/>
<text transform="translate(241.72 456.7) scale(0.88 1)" text-anchor="middle" class="t tx">15</text>
<rect x="239.19" y="416.8" width="5.05" height="27.7" fill="#fff" stroke="#0a0a0a" stroke-width="1.15"/>
<text transform="translate(254.75 456.7) scale(0.88 1)" text-anchor="middle" class="t tx">16</text>
<rect x="252.22" y="412.7" width="5.05" height="31.8" fill="#fff" stroke="#0a0a0a" stroke-width="1.15"/>
<line x1="254.75" y1="400.1" x2="254.75" y2="412.2" stroke="#383838" stroke-width="0.9"/>
<line x1="253.25" y1="400.4" x2="256.25" y2="400.4" stroke="#383838" stroke-width="0.9"/>
<line x1="254.75" y1="412.2" x2="254.75" y2="424.9" stroke="#858585" stroke-width="0.8" stroke-dasharray="1.6 0.4"/>
<line x1="253.75" y1="424.9" x2="255.75" y2="424.9" stroke="#888" stroke-width="0.8"/>
<line x1="309.8" y1="277" x2="309.8" y2="445.7" stroke="#0a0a0a" stroke-width="1.3"/>
<line x1="307" y1="445.2" x2="309.8" y2="445.2" stroke="#0a0a0a" stroke-width="1"/>
<text transform="translate(302.8 448.7) scale(0.9 1)" text-anchor="end" class="t ty">0</text>
<line x1="307" y1="403.27" x2="309.8" y2="403.27" stroke="#0a0a0a" stroke-width="1"/>
<text transform="translate(302.8 406.77) scale(0.9 1)" text-anchor="end" class="t ty">25</text>
<line x1="307" y1="361.35" x2="309.8" y2="361.35" stroke="#0a0a0a" stroke-width="1"/>
<text transform="translate(302.8 364.85) scale(0.9 1)" text-anchor="end" class="t ty">50</text>
<line x1="307" y1="319.42" x2="309.8" y2="319.42" stroke="#0a0a0a" stroke-width="1"/>
<text transform="translate(302.8 322.92) scale(0.9 1)" text-anchor="end" class="t ty">75</text>
<line x1="307" y1="277.5" x2="309.8" y2="277.5" stroke="#0a0a0a" stroke-width="1"/>
<text transform="translate(302.8 281) scale(0.9 1)" text-anchor="end" class="t ty">100</text>
<line x1="309.2" y1="445.2" x2="517.02" y2="445.2" stroke="#0a0a0a" stroke-width="1.3"/>
<line x1="322.72" y1="445.2" x2="322.72" y2="447.2" stroke="#0a0a0a" stroke-width="1"/>
<line x1="335.64" y1="445.2" x2="335.64" y2="447.2" stroke="#0a0a0a" stroke-width="1"/>
<line x1="348.56" y1="445.2" x2="348.56" y2="447.2" stroke="#0a0a0a" stroke-width="1"/>
<line x1="361.48" y1="445.2" x2="361.48" y2="447.2" stroke="#0a0a0a" stroke-width="1"/>
<line x1="374.4" y1="445.2" x2="374.4" y2="447.2" stroke="#0a0a0a" stroke-width="1"/>
<line x1="387.32" y1="445.2" x2="387.32" y2="447.2" stroke="#0a0a0a" stroke-width="1"/>
<line x1="400.24" y1="445.2" x2="400.24" y2="447.2" stroke="#0a0a0a" stroke-width="1"/>
<line x1="413.16" y1="445.2" x2="413.16" y2="447.2" stroke="#0a0a0a" stroke-width="1"/>
<line x1="426.08" y1="445.2" x2="426.08" y2="447.2" stroke="#0a0a0a" stroke-width="1"/>
<line x1="439" y1="445.2" x2="439" y2="447.2" stroke="#0a0a0a" stroke-width="1"/>
<line x1="451.92" y1="445.2" x2="451.92" y2="447.2" stroke="#0a0a0a" stroke-width="1"/>
<line x1="464.84" y1="445.2" x2="464.84" y2="447.2" stroke="#0a0a0a" stroke-width="1"/>
<line x1="477.76" y1="445.2" x2="477.76" y2="447.2" stroke="#0a0a0a" stroke-width="1"/>
<line x1="490.68" y1="445.2" x2="490.68" y2="447.2" stroke="#0a0a0a" stroke-width="1"/>
<line x1="503.6" y1="445.2" x2="503.6" y2="447.2" stroke="#0a0a0a" stroke-width="1"/>
<line x1="516.52" y1="445.2" x2="516.52" y2="447.2" stroke="#0a0a0a" stroke-width="1"/>
<text transform="translate(316.3 458) scale(0.88 1)" text-anchor="middle" class="t tx">1</text>
<rect x="313.78" y="361.6" width="5.05" height="83.6" fill="#fff" stroke="#0a0a0a" stroke-width="1.15"/>
<line x1="316.3" y1="353.2" x2="316.3" y2="361.1" stroke="#383838" stroke-width="0.9"/>
<line x1="314.8" y1="353.5" x2="317.8" y2="353.5" stroke="#383838" stroke-width="0.9"/>
<line x1="316.3" y1="361.1" x2="316.3" y2="368.9" stroke="#858585" stroke-width="0.8" stroke-dasharray="1.6 0.4"/>
<line x1="315.3" y1="368.9" x2="317.3" y2="368.9" stroke="#888" stroke-width="0.8"/>
<text transform="translate(329.22 458) scale(0.88 1)" text-anchor="middle" class="t tx">2</text>
<rect x="326.7" y="299.6" width="5.05" height="145.6" fill="#fff" stroke="#0a0a0a" stroke-width="1.15"/>
<line x1="329.22" y1="287.8" x2="329.22" y2="299.1" stroke="#383838" stroke-width="0.9"/>
<line x1="327.72" y1="288.1" x2="330.72" y2="288.1" stroke="#383838" stroke-width="0.9"/>
<line x1="329.22" y1="299.1" x2="329.22" y2="310.6" stroke="#858585" stroke-width="0.8" stroke-dasharray="1.6 0.4"/>
<line x1="328.22" y1="310.6" x2="330.22" y2="310.6" stroke="#888" stroke-width="0.8"/>
<text transform="translate(342.14 458) scale(0.88 1)" text-anchor="middle" class="t tx">3</text>
<rect x="339.62" y="433.3" width="5.05" height="11.9" fill="#fff" stroke="#0a0a0a" stroke-width="1.15"/>
<line x1="342.14" y1="425" x2="342.14" y2="432.8" stroke="#383838" stroke-width="0.9"/>
<line x1="340.64" y1="425.3" x2="343.64" y2="425.3" stroke="#383838" stroke-width="0.9"/>
<line x1="342.14" y1="432.8" x2="342.14" y2="440.6" stroke="#858585" stroke-width="0.8" stroke-dasharray="1.6 0.4"/>
<line x1="341.14" y1="440.6" x2="343.14" y2="440.6" stroke="#888" stroke-width="0.8"/>
<text transform="translate(355.06 458) scale(0.88 1)" text-anchor="middle" class="t tx">4</text>
<rect x="352.54" y="325.5" width="5.05" height="119.7" fill="#fff" stroke="#0a0a0a" stroke-width="1.15"/>
<line x1="355.06" y1="302.8" x2="355.06" y2="325" stroke="#383838" stroke-width="0.9"/>
<line x1="353.56" y1="303.1" x2="356.56" y2="303.1" stroke="#383838" stroke-width="0.9"/>
<line x1="355.06" y1="325" x2="355.06" y2="347.2" stroke="#858585" stroke-width="0.8" stroke-dasharray="1.6 0.4"/>
<line x1="354.06" y1="347.2" x2="356.06" y2="347.2" stroke="#888" stroke-width="0.8"/>
<text transform="translate(367.98 458) scale(0.88 1)" text-anchor="middle" class="t tx">5</text>
<rect x="365.46" y="323.3" width="5.05" height="121.9" fill="#fff" stroke="#0a0a0a" stroke-width="1.15"/>
<line x1="367.98" y1="303.7" x2="367.98" y2="322.8" stroke="#383838" stroke-width="0.9"/>
<line x1="366.48" y1="304" x2="369.48" y2="304" stroke="#383838" stroke-width="0.9"/>
<line x1="367.98" y1="322.8" x2="367.98" y2="341.9" stroke="#858585" stroke-width="0.8" stroke-dasharray="1.6 0.4"/>
<line x1="366.98" y1="341.9" x2="368.98" y2="341.9" stroke="#888" stroke-width="0.8"/>
<text transform="translate(380.9 458) scale(0.88 1)" text-anchor="middle" class="t tx">6</text>
<text transform="translate(393.82 458) scale(0.88 1)" text-anchor="middle" class="t tx">7</text>
<rect x="391.3" y="415" width="5.05" height="30.2" fill="#fff" stroke="#0a0a0a" stroke-width="1.15"/>
<line x1="393.82" y1="408" x2="393.82" y2="414.5" stroke="#383838" stroke-width="0.9"/>
<line x1="392.32" y1="408.3" x2="395.32" y2="408.3" stroke="#383838" stroke-width="0.9"/>
<line x1="393.82" y1="414.5" x2="393.82" y2="421.3" stroke="#858585" stroke-width="0.8" stroke-dasharray="1.6 0.4"/>
<line x1="392.82" y1="421.3" x2="394.82" y2="421.3" stroke="#888" stroke-width="0.8"/>
<text transform="translate(406.74 458) scale(0.88 1)" text-anchor="middle" class="t tx">8</text>
<rect x="404.22" y="299.8" width="5.05" height="145.4" fill="#fff" stroke="#0a0a0a" stroke-width="1.15"/>
<line x1="406.74" y1="287.6" x2="406.74" y2="299.3" stroke="#383838" stroke-width="0.9"/>
<line x1="405.24" y1="287.9" x2="408.24" y2="287.9" stroke="#383838" stroke-width="0.9"/>
<line x1="406.74" y1="299.3" x2="406.74" y2="310.6" stroke="#858585" stroke-width="0.8" stroke-dasharray="1.6 0.4"/>
<line x1="405.74" y1="310.6" x2="407.74" y2="310.6" stroke="#888" stroke-width="0.8"/>
<text transform="translate(419.66 458) scale(0.88 1)" text-anchor="middle" class="t tx">9</text>
<rect x="417.14" y="309.4" width="5.05" height="135.8" fill="#fff" stroke="#0a0a0a" stroke-width="1.15"/>
<line x1="419.66" y1="292.8" x2="419.66" y2="308.9" stroke="#383838" stroke-width="0.9"/>
<line x1="418.16" y1="293.1" x2="421.16" y2="293.1" stroke="#383838" stroke-width="0.9"/>
<line x1="419.66" y1="308.9" x2="419.66" y2="325" stroke="#858585" stroke-width="0.8" stroke-dasharray="1.6 0.4"/>
<line x1="418.66" y1="325" x2="420.66" y2="325" stroke="#888" stroke-width="0.8"/>
<text transform="translate(432.58 458) scale(0.88 1)" text-anchor="middle" class="t tx">10</text>
<rect x="430.06" y="412.9" width="5.05" height="32.3" fill="#fff" stroke="#0a0a0a" stroke-width="1.15"/>
<line x1="432.58" y1="399.3" x2="432.58" y2="412.4" stroke="#383838" stroke-width="0.9"/>
<line x1="431.08" y1="399.6" x2="434.08" y2="399.6" stroke="#383838" stroke-width="0.9"/>
<line x1="432.58" y1="412.4" x2="432.58" y2="425.4" stroke="#858585" stroke-width="0.8" stroke-dasharray="1.6 0.4"/>
<line x1="431.58" y1="425.4" x2="433.58" y2="425.4" stroke="#888" stroke-width="0.8"/>
<text transform="translate(445.5 458) scale(0.88 1)" text-anchor="middle" class="t tx">11</text>
<rect x="442.98" y="281.6" width="5.05" height="163.6" fill="#fff" stroke="#0a0a0a" stroke-width="1.15"/>
<line x1="445.5" y1="278.5" x2="445.5" y2="281.1" stroke="#383838" stroke-width="0.9"/>
<line x1="444" y1="278.8" x2="447" y2="278.8" stroke="#383838" stroke-width="0.9"/>
<line x1="445.5" y1="281.1" x2="445.5" y2="283.2" stroke="#858585" stroke-width="0.8" stroke-dasharray="1.6 0.4"/>
<line x1="444.5" y1="283.2" x2="446.5" y2="283.2" stroke="#888" stroke-width="0.8"/>
<text transform="translate(458.42 458) scale(0.88 1)" text-anchor="middle" class="t tx">12</text>
<rect x="455.9" y="287.7" width="5.05" height="157.5" fill="#fff" stroke="#0a0a0a" stroke-width="1.15"/>
<text transform="translate(471.34 458) scale(0.88 1)" text-anchor="middle" class="t tx">13</text>
<rect x="468.82" y="417.7" width="5.05" height="27.5" fill="#fff" stroke="#0a0a0a" stroke-width="1.15"/>
<line x1="471.34" y1="410.2" x2="471.34" y2="417.2" stroke="#383838" stroke-width="0.9"/>
<line x1="469.84" y1="410.5" x2="472.84" y2="410.5" stroke="#383838" stroke-width="0.9"/>
<line x1="471.34" y1="417.2" x2="471.34" y2="424.1" stroke="#858585" stroke-width="0.8" stroke-dasharray="1.6 0.4"/>
<line x1="470.34" y1="424.1" x2="472.34" y2="424.1" stroke="#888" stroke-width="0.8"/>
<text transform="translate(484.26 458) scale(0.88 1)" text-anchor="middle" class="t tx">14</text>
<rect x="481.74" y="304.6" width="5.05" height="140.6" fill="#fff" stroke="#0a0a0a" stroke-width="1.15"/>
<line x1="484.26" y1="291.9" x2="484.26" y2="304.1" stroke="#383838" stroke-width="0.9"/>
<line x1="482.76" y1="292.2" x2="485.76" y2="292.2" stroke="#383838" stroke-width="0.9"/>
<line x1="484.26" y1="304.1" x2="484.26" y2="316.3" stroke="#858585" stroke-width="0.8" stroke-dasharray="1.6 0.4"/>
<line x1="483.26" y1="316.3" x2="485.26" y2="316.3" stroke="#888" stroke-width="0.8"/>
<text transform="translate(497.18 458) scale(0.88 1)" text-anchor="middle" class="t tx">15</text>
<rect x="494.66" y="292.9" width="5.05" height="152.3" fill="#fff" stroke="#0a0a0a" stroke-width="1.15"/>
<text transform="translate(510.1 458) scale(0.88 1)" text-anchor="middle" class="t tx">16</text>
<rect x="507.58" y="311.6" width="5.05" height="133.6" fill="#fff" stroke="#0a0a0a" stroke-width="1.15"/>
<line x1="510.1" y1="290.6" x2="510.1" y2="311.1" stroke="#383838" stroke-width="0.9"/>
<line x1="508.6" y1="290.9" x2="511.6" y2="290.9" stroke="#383838" stroke-width="0.9"/>
<line x1="510.1" y1="311.1" x2="510.1" y2="331.1" stroke="#858585" stroke-width="0.8" stroke-dasharray="1.6 0.4"/>
<line x1="509.1" y1="331.1" x2="511.1" y2="331.1" stroke="#888" stroke-width="0.8"/>
<text transform="translate(1.2 17.1) scale(1.1 1)" class="p">A</text>
<text transform="translate(1.9 258.5) scale(0.99 1)" class="p">B</text>
<text transform="translate(30.3 183.3) rotate(-90)" class="l">HSP<tspan letter-spacing="0.7">105</tspan><tspan dx="0.5"> relative</tspan><tspan dx="-0.7" letter-spacing="0.1"> MFI</tspan></text>
<line x1="25" y1="191.3" x2="25" y2="207.8" stroke="#000" stroke-width="1.2"/>
<polygon points="25.05,34 29.95,43.9 20.15,43.9" fill="#000"/>
<line x1="25.05" y1="43.4" x2="25.05" y2="51.7" stroke="#000" stroke-width="1.2"/>
<text transform="translate(30.3 422.6) rotate(-90)" class="l">HSP<tspan letter-spacing="0.7">105</tspan><tspan dx="0"> relative</tspan><tspan dx="-1.2" letter-spacing="0.1"> MFI</tspan></text>
<line x1="25" y1="430.6" x2="25" y2="447.1" stroke="#000" stroke-width="1.2"/>
<polygon points="25.05,273.3 29.95,283.2 20.15,283.2" fill="#000"/>
<line x1="25.05" y1="282.7" x2="25.05" y2="291" stroke="#000" stroke-width="1.2"/>
<text transform="translate(288.8 173) rotate(-90)" class="l"><tspan letter-spacing="0.1">% HSP</tspan><tspan letter-spacing="0.7">105</tspan><tspan dy="-3.6" dx="-0.8" font-size="7.5">+</tspan><tspan dy="3.6" dx="-1.2" letter-spacing="0.22"> cells</tspan></text>
<line x1="283.5" y1="180.9" x2="283.5" y2="208.1" stroke="#000" stroke-width="1.2"/>
<polygon points="283.6,34 288.5,43.7 278.7,43.7" fill="#000"/>
<line x1="283.6" y1="43.2" x2="283.6" y2="62.8" stroke="#000" stroke-width="1.2"/>
<text transform="translate(288.8 412.2) rotate(-90)" class="l"><tspan letter-spacing="0.1">% HSP</tspan><tspan letter-spacing="0.7">105</tspan><tspan dy="-3.6" dx="-0.8" font-size="7.5">+</tspan><tspan dy="3.6" dx="-0.3" letter-spacing="0.22"> cells</tspan></text>
<line x1="283.5" y1="419.7" x2="283.5" y2="447.9" stroke="#000" stroke-width="1.2"/>
<polygon points="283.6,273.2 288.5,282.9 278.7,282.9" fill="#000"/>
<line x1="283.6" y1="282.4" x2="283.6" y2="302.3" stroke="#000" stroke-width="1.2"/>
</g>
</svg>
</body>
</html>
